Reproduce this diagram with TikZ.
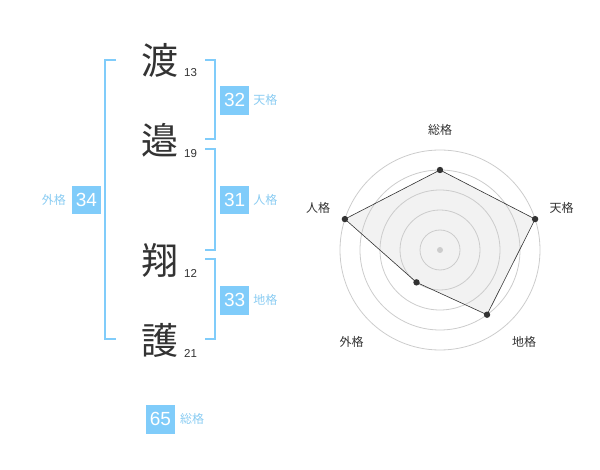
\documentclass[tikz,border=0pt]{standalone}
\usepackage{fontspec}
\setmainfont{Liberation Sans}
\newfontfamily\jp{Noto Sans CJK JP}
\usetikzlibrary{positioning}
\definecolor{kakublue}{HTML}{80CCFA}
\definecolor{kakutext}{HTML}{8ACCF2}
\definecolor{sumi}{HTML}{333333}
\begin{document}
\begin{tikzpicture}[x=1pt,y=-1pt,
  kanji/.style={font=\jp\fontsize{37}{37}\selectfont,text=sumi,inner sep=0pt},
  kakusu/.style={font=\fontsize{11.5}{12}\selectfont,text=sumi,inner sep=0pt,anchor=base west},
  kakubox/.style={fill=kakublue,text=white,minimum size=28.5pt,inner sep=0pt,font=\fontsize{19}{19}\selectfont},
  kakuname/.style={font=\jp\fontsize{12}{12}\selectfont,text=kakutext,inner sep=0pt},
  radarname/.style={font=\jp\fontsize{12}{12}\selectfont,text=sumi,inner sep=0pt},
  bracket/.style={draw=kakublue,line width=1.8pt}]
\useasboundingbox (0,0) rectangle (600,470);
% name, strokes
\node[kanji] (c1) at (160,60) {渡};
\node[kanji] (c2) at (160,140) {邉};
\node[kanji] (c3) at (160,260) {翔};
\node[kanji] (c4) at (160,340.5) {護};
\node[kakusu] (n1) at (184,76.7) {13};
\node[kakusu] (n2) at (184,157.7) {19};
\node[kakusu] (n3) at (184,277.3) {12};
\node[kakusu] (n4) at (184,357.7) {21};
% brackets
\draw[bracket] (116,60) -| (105,339.3) -- (116,339.3);
\draw[bracket] (205,60) -| (214.7,139.3) -- (205,139.3);
\draw[bracket] (205,149) -| (214.7,250) -- (205,250);
\draw[bracket] (205,259.3) -| (214.7,339.3) -- (205,339.3);
% kaku values
\node[kakubox] (ten) at (234.7,100.3) {32};
\node[kakuname,right=4pt of ten] (tenl) {天格};
\node[kakubox] (jin) at (234.7,200) {31};
\node[kakuname,right=4pt of jin] (jinl) {人格};
\node[kakubox] (chi) at (234.7,300.3) {33};
\node[kakuname,right=4pt of chi] (chil) {地格};
\node[kakubox] (gai) at (86.5,200) {34};
\node[kakuname,left=6pt of gai] (gail) {外格};
\node[kakubox] (sou) at (160.5,419.3) {65};
\node[kakuname,right=5pt of sou] (soul) {総格};
% radar
\begin{scope}[shift={(440,250)},yscale=-1]
\coordinate (pSou) at (90:80);
\coordinate (pTen) at (18:100);
\coordinate (pChi) at (-54:80);
\coordinate (pGai) at (-126:40);
\coordinate (pJin) at (162:100);
\fill[gray!10] (pSou) -- (pTen) -- (pChi) -- (pGai) -- (pJin) -- cycle;
\foreach \r in {20,40,...,100}
  \draw[gray!40,line width=0.8pt] (0,0) circle[radius=\r];
\fill[gray!40] (0,0) circle[radius=3];
\draw[sumi,line width=0.6pt] (pSou) -- (pTen) -- (pChi) -- (pGai) -- (pJin) -- cycle;
\foreach \p in {pSou,pTen,pChi,pGai,pJin}
  \fill[sumi] (\p) circle[radius=3.2];
\end{scope}
\node[radarname] (rSou) at (440,130) {総格};
\node[radarname] (rTen) at (561.7,208) {天格};
\node[radarname] (rChi) at (524,342) {地格};
\node[radarname] (rGai) at (351.7,342) {外格};
\node[radarname] (rJin) at (318,208) {人格};
\end{tikzpicture}
\end{document}
